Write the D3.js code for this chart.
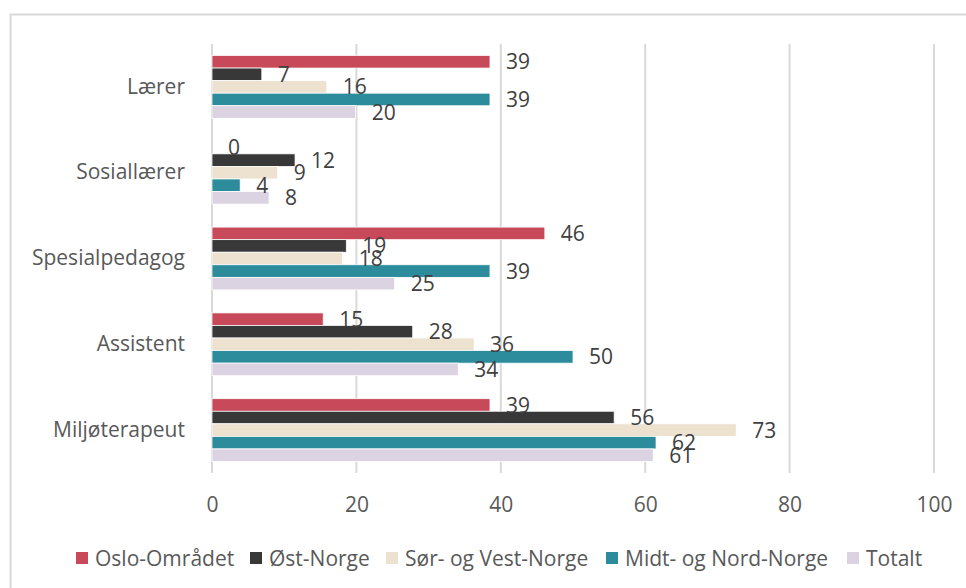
<!DOCTYPE html>
<html>
<head>
<meta charset="utf-8">
<script src="https://cdn.jsdelivr.net/npm/d3@7"></script>
<style>
  body { margin: 0; background: #fff; }
  svg { display: block; font-family: "Open Sans", Lato, sans-serif; }
</style>
</head>
<body>
<div id="chart"></div>
<script>
// Yrkesgrupper per region, horisontale grupperte stolper

var categories = ['Lærer', 'Sosiallærer', 'Spesialpedagog', 'Assistent', 'Miljøterapeut'];
var seriesNames = ['Oslo-Området', 'Øst-Norge', 'Sør- og Vest-Norge', 'Midt- og Nord-Norge', 'Totalt'];
var seriesColors = ['#C84A5A', '#383838', '#EDE1D0', '#2C8C9C', '#DBD3E1'];

// values per series, same order as categories
var osloValues = [38.5, 0, 46.1, 15.4, 38.5];
var ostValues = [6.9, 11.5, 18.6, 27.8, 55.7];
var sorVestValues = [15.9, 9.1, 18.1, 36.3, 72.6];
var midtNordValues = [38.5, 3.9, 38.5, 50.0, 61.5];
var totaltValues = [19.9, 7.9, 25.3, 34.1, 61.1];
var allValues = [osloValues, ostValues, sorVestValues, midtNordValues, totaltValues];

var xTicks = [0, 20, 40, 60, 80, 100];

var W = 966, H = 588;
var plot = { left: 212, right: 934, top: 44, bottom: 473 };
var FONT = '"Open Sans", Lato, sans-serif';
var FS = '21px';

var svg = d3.select('#chart').append('svg')
  .attr('width', W)
  .attr('height', H);

// outer chart border (runs off the right / bottom edge)
svg.append('rect')
  .attr('x', 10.5).attr('y', 14.5)
  .attr('width', W + 10).attr('height', H + 10)
  .attr('fill', 'none')
  .attr('stroke', '#D9D9D9')
  .attr('stroke-width', 2);

var x = d3.scaleLinear().domain([0, 100]).range([plot.left, plot.right]);
var y0 = d3.scaleBand().domain(categories).range([plot.top, plot.bottom]).paddingInner(0.268).paddingOuter(0.134);
var y1 = d3.scaleBand().domain(seriesNames).range([0, y0.bandwidth()]);

// gridlines
svg.append('g').selectAll('line')
  .data(xTicks)
  .join('line')
  .attr('x1', function (d) { return x(d); })
  .attr('x2', function (d) { return x(d); })
  .attr('y1', plot.top)
  .attr('y2', plot.bottom)
  .attr('stroke', '#D9D9D9')
  .attr('stroke-width', 2);

// x tick labels
var xAxis = d3.axisBottom(x).tickValues(xTicks).tickSize(0).tickPadding(0);
var xg = svg.append('g').attr('transform', 'translate(0,' + (plot.bottom + 39) + ')').call(xAxis);
xg.select('.domain').remove();
xg.selectAll('text')
  .attr('dy', 0)
  .attr('fill', '#595959')
  .style('font-size', FS)
  .style('font-family', FONT);

// y category labels
var yAxis = d3.axisLeft(y0).tickSize(0).tickPadding(27);
var yg = svg.append('g').attr('transform', 'translate(' + plot.left + ',0)').call(yAxis);
yg.select('.domain').remove();
yg.selectAll('text')
  .attr('fill', '#595959')
  .style('font-size', FS)
  .style('font-family', FONT);

// bars
var groups = svg.append('g').selectAll('g')
  .data(categories)
  .join('g')
  .attr('transform', function (d) { return 'translate(0,' + y0(d) + ')'; });

groups.each(function (cat, ci) {
  var g = d3.select(this);
  var rows = seriesNames.map(function (s, si) {
    return { series: s, color: seriesColors[si], value: allValues[si][ci] };
  });

  g.selectAll('rect')
    .data(rows)
    .join('rect')
    .attr('x', x(0))
    .attr('y', function (d) { return y1(d.series); })
    .attr('width', function (d) { return x(d.value) - x(0); })
    .attr('height', y1.bandwidth())
    .attr('fill', function (d) { return d.color; })
    .attr('stroke', '#fff')
    .attr('stroke-width', 0.75);

  g.selectAll('text')
    .data(rows)
    .join('text')
    .attr('x', function (d) { return x(d.value) + 16; })
    .attr('y', function (d) { return y1(d.series) + y1.bandwidth() / 2; })
    .attr('dy', '0.36em')
    .attr('fill', '#404040')
    .style('font-size', FS)
    .text(function (d) { return Math.round(d.value); });
});

// legend
var legendX = [76, 250, 386, 606, 847];
var legend = svg.append('g').selectAll('g')
  .data(seriesNames)
  .join('g')
  .attr('transform', function (d, i) { return 'translate(' + legendX[i] + ',558)'; });

legend.append('rect')
  .attr('x', 0).attr('y', -6)
  .attr('width', 12).attr('height', 12)
  .attr('fill', function (d, i) { return seriesColors[i]; });

legend.append('text')
  .attr('x', 19)
  .attr('dy', '0.36em')
  .attr('fill', '#595959')
  .style('font-size', FS)
  .text(function (d) { return d; });
</script>
</body>
</html>
